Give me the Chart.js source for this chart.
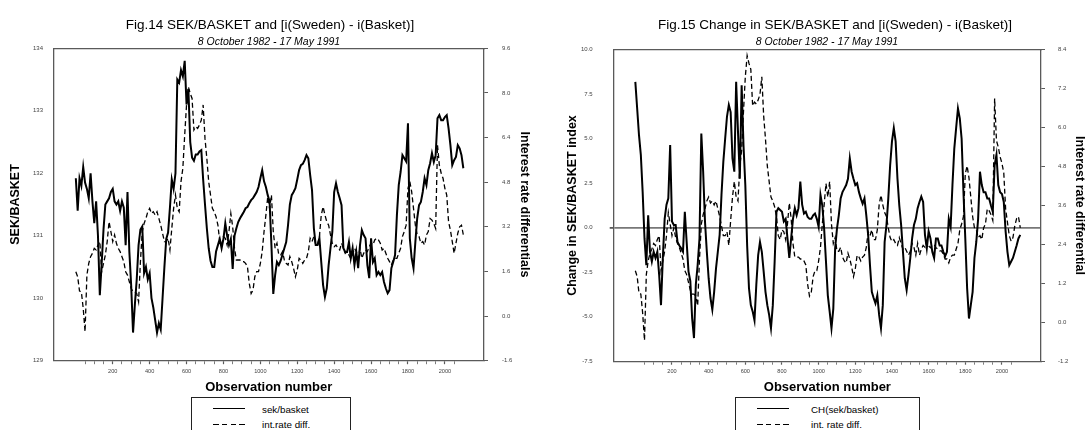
<!DOCTYPE html>
<html>
<head>
<meta charset="utf-8">
<script src="https://cdn.jsdelivr.net/npm/chart.js@4.4.1/dist/chart.umd.min.js"></script>
<style>
html,body{margin:0;padding:0;background:#fff;}
#wrap{position:relative;width:1087px;height:430px;overflow:hidden;font-family:"Liberation Sans",Arial,sans-serif;color:#000;}
canvas{position:absolute;top:0;}
.t{position:absolute;white-space:nowrap;transform:translate(-50%,-50%);}
.title{font-size:13.5px;}
.sub{font-size:10.5px;font-style:italic;}
.leg{position:absolute;border:1px solid #222;background:#fff;height:60px;box-sizing:border-box;}
.ln{position:absolute;height:1.3px;background:#000;}
.ln.d{height:1.1px;background:repeating-linear-gradient(90deg,#000 0 5.5px,transparent 5.5px 8.8px);}
.lt{position:absolute;font-size:9.8px;white-space:nowrap;transform:translateY(-50%);}
</style>
</head>
<body>
<div id="wrap">
  <canvas id="c1" width="543" height="430" style="left:0"></canvas>
  <canvas id="c2" width="544" height="430" style="left:543px"></canvas>
  <div class="t title" style="left:270px;top:23.5px">Fig.14 SEK/BASKET and [i(Sweden) - i(Basket)]</div>
  <div class="t sub" style="left:269px;top:40.5px">8 October 1982 - 17 May 1991</div>
  <div class="t title" style="left:835px;top:23.5px">Fig.15 Change in SEK/BASKET and [i(Sweden) - i(Basket)]</div>
  <div class="t sub" style="left:827px;top:40.5px">8 October 1982 - 17 May 1991</div>
  <div class="leg" style="left:191px;top:397px;width:160px">
    <div class="ln" style="left:20.5px;top:10px;width:32.5px"></div>
    <div class="lt" style="left:70px;top:10.5px">sek/basket</div>
    <div class="ln d" style="left:20.5px;top:25.5px;width:32.5px"></div>
    <div class="lt" style="left:70px;top:26px">int.rate diff.</div>
  </div>
  <div class="leg" style="left:735px;top:397px;width:185px">
    <div class="ln" style="left:21px;top:10px;width:32px"></div>
    <div class="lt" style="left:75px;top:10.5px">CH(sek/basket)</div>
    <div class="ln d" style="left:21px;top:25.5px;width:32px"></div>
    <div class="lt" style="left:75px;top:26px">int. rate diff.</div>
  </div>
</div>
<script>
// ---------------- DATA (one value every OBS_STEP observations, starting at obs 0) ----------------
const OBS_STEP = 10;

// Fig.14 solid: SEK/BASKET index
const sekBasket = [
131.92,131.40,131.92,131.80,132.10,131.85,131.75,131.60,132.00,131.55,
131.20,131.55,131.00,130.05,130.55,131.10,131.50,131.55,131.60,131.70,
131.75,131.55,131.50,131.55,131.40,131.55,131.45,130.85,131.70,130.75,
130.20,129.45,129.90,130.30,130.85,131.10,131.15,130.40,130.50,130.30,
130.40,130.00,129.85,129.65,129.45,129.60,129.50,130.00,130.50,130.95,
131.05,131.45,131.90,131.75,132.00,133.50,133.45,133.65,133.55,133.80,
133.10,133.35,132.50,132.25,132.20,132.30,132.30,132.35,132.37,131.90,
131.50,131.12,130.80,130.60,130.50,130.50,130.75,130.85,130.95,130.80,
130.95,131.20,131.00,130.85,130.95,130.47,131.00,131.12,131.22,131.28,
131.33,131.38,131.44,131.46,131.52,131.57,131.60,131.65,131.70,131.78,
131.92,132.05,131.87,131.78,131.65,131.55,130.85,130.07,130.37,130.58,
130.53,130.60,130.70,130.80,130.90,131.17,131.50,131.65,131.70,131.76,
131.90,132.05,132.13,132.15,132.21,132.29,132.24,131.97,131.73,131.12,
130.85,130.85,130.96,130.58,130.21,130.02,130.16,130.53,130.80,131.06,
131.70,131.84,131.70,131.60,131.49,130.80,130.74,130.74,130.90,130.64,
130.80,130.53,130.74,130.48,130.85,131.09,131.01,130.96,130.53,130.32,
130.96,130.58,130.64,130.37,130.42,130.37,130.42,130.26,130.16,130.08,
130.13,130.48,130.58,130.69,131.33,131.81,132.02,132.29,132.24,132.19,
132.80,130.96,130.64,130.48,130.90,131.28,131.49,131.54,131.70,131.92,
131.81,132.05,132.16,132.32,132.18,132.29,132.88,132.93,132.85,132.85,
132.90,132.93,132.72,132.45,132.13,132.21,132.26,132.45,132.40,132.29,
132.08
];

// Fig.14 dashed: interest rate differential
const rateDiff14 = [
1.59,1.41,0.90,0.87,0.28,-0.56,1.47,1.89,2.13,2.25,
2.43,2.37,2.55,2.67,1.59,1.89,2.19,2.67,3.38,3.03,
2.67,2.91,2.61,2.43,2.31,2.13,1.95,1.59,1.47,1.23,
0.99,0.87,0.87,0.81,0.51,1.95,3.03,3.32,3.50,3.74,
3.86,3.68,3.74,3.62,3.74,3.50,3.26,2.97,2.67,2.67,
2.79,2.37,3.14,3.86,4.34,3.86,3.74,4.82,5.30,6.49,
7.57,8.22,7.98,7.80,6.67,6.79,6.73,6.85,7.03,7.57,
6.37,5.65,4.82,4.34,3.86,3.74,3.56,3.26,2.67,2.55,
2.85,2.79,2.55,3.03,3.68,3.20,2.43,2.01,2.01,2.01,
1.95,1.95,1.89,1.77,1.17,0.81,0.93,1.41,1.59,1.59,
1.89,2.31,3.03,3.62,4.28,3.86,4.34,3.03,2.43,2.61,
2.19,2.19,2.31,2.01,1.89,1.83,2.13,1.95,1.71,1.41,
1.65,2.07,2.01,1.89,2.01,2.07,2.31,2.79,2.67,2.85,
2.55,2.55,2.85,3.62,3.92,3.62,3.38,3.26,2.91,2.61,
2.49,2.55,2.43,2.37,2.61,2.43,2.25,2.31,2.19,2.07,
2.19,2.43,2.31,2.07,2.43,2.07,2.25,2.37,2.31,2.49,
2.61,2.55,2.73,2.79,2.73,2.61,2.37,2.43,2.25,2.07,
1.95,1.83,2.01,2.07,2.07,2.25,2.43,2.85,3.03,3.26,
4.58,4.82,4.46,3.86,3.26,2.91,2.85,2.61,2.67,2.55,
2.91,3.03,3.50,3.44,3.32,3.14,6.13,5.41,5.12,4.94,
4.58,4.34,3.38,3.08,2.67,2.25,2.61,2.97,3.20,3.26,
2.91
];

// Fig.15 solid: change in SEK/BASKET index
const chSekBasket = [
8.20,6.70,5.20,4.10,2.00,-0.60,-2.10,0.70,-1.35,-1.90,
-1.35,-1.70,-1.35,-2.65,-4.35,-1.70,0.50,1.30,1.65,4.65,
0.35,0.15,0.15,-0.80,-1.00,-1.15,-1.35,0.90,-0.80,-2.45,
-3.00,-5.10,-6.20,-3.20,-2.10,-0.60,5.30,3.15,0.35,-1.35,
-2.85,-3.95,-4.60,-3.60,-2.30,-1.35,-0.40,1.85,3.70,5.00,
6.25,6.90,6.50,3.90,3.15,8.20,5.40,2.75,8.00,4.65,
2.40,-1.00,-3.40,-4.35,-4.70,-5.20,-3.20,-1.55,-0.80,-1.35,
-2.45,-3.60,-4.35,-4.90,-5.65,-4.35,-1.90,0.90,1.10,1.00,
0.90,0.35,0.50,-0.60,-1.70,-0.60,0.50,1.10,0.70,1.10,
2.60,1.30,0.80,0.90,0.60,0.50,0.50,0.70,0.80,0.50,
0.05,1.85,1.25,-0.05,-1.90,-3.80,-4.70,-5.65,-4.55,-1.15,
-0.05,0.70,1.65,2.00,2.20,2.40,2.75,3.90,3.15,2.75,
2.40,2.50,2.00,1.65,1.35,1.65,0.70,-0.40,-2.10,-3.60,
-3.95,-4.25,-3.80,-4.90,-5.65,-4.35,-0.80,0.15,1.65,3.50,
4.85,5.60,4.85,2.75,1.25,0.15,-1.35,-2.85,-3.50,-2.65,
-1.70,-0.60,0.15,0.50,1.10,1.45,1.75,1.45,-0.40,-1.15,
-0.20,-0.60,-1.35,-1.70,-0.60,-0.60,-1.00,-1.00,-1.35,-1.60,
-1.35,0.50,0.05,2.40,4.45,5.60,6.70,6.15,5.00,2.00,
-0.60,-3.40,-5.10,-4.35,-3.60,-1.70,-0.80,0.50,3.15,2.40,
2.00,2.00,1.65,1.65,1.25,0.90,3.50,4.10,2.40,2.00,
1.90,1.45,-0.20,-1.35,-2.10,-1.90,-1.70,-1.35,-1.00,-0.60,
-0.40
];

// Fig.15 dashed: interest rate differential
const rateDiff15 = [
1.59,1.41,0.90,0.87,0.28,-0.56,1.47,1.89,2.13,2.25,
2.43,2.37,2.55,2.67,1.59,1.89,2.19,2.67,3.38,3.03,
2.67,2.91,2.61,2.43,2.31,2.13,1.95,1.59,1.47,1.23,
0.99,0.87,0.87,0.81,0.51,1.95,3.03,3.32,3.50,3.74,
3.86,3.68,3.74,3.62,3.74,3.50,3.26,2.97,2.67,2.67,
2.79,2.37,3.14,3.86,4.34,3.86,3.74,4.82,5.30,6.49,
7.57,8.22,7.98,7.80,6.67,6.79,6.73,6.85,7.03,7.57,
6.37,5.65,4.82,4.34,3.86,3.74,3.56,3.26,2.67,2.55,
2.85,2.79,2.55,3.03,3.68,3.20,2.43,2.01,2.01,2.01,
1.95,1.95,1.89,1.77,1.17,0.81,0.93,1.41,1.59,1.59,
1.89,2.31,3.03,3.62,4.28,3.86,4.34,3.03,2.43,2.61,
2.19,2.19,2.31,2.01,1.89,1.83,2.13,1.95,1.71,1.41,
1.65,2.07,2.01,1.89,2.01,2.07,2.31,2.79,2.67,2.85,
2.55,2.55,2.85,3.62,3.92,3.62,3.38,3.26,2.91,2.61,
2.49,2.55,2.43,2.37,2.61,2.43,2.25,2.31,2.19,2.07,
2.19,2.43,2.31,2.07,2.43,2.07,2.25,2.37,2.31,2.49,
2.35,2.30,2.38,2.40,2.30,2.25,2.20,2.20,2.10,1.95,
1.95,1.83,2.01,2.07,2.07,2.25,2.43,2.85,3.03,3.26,
4.58,4.82,4.46,3.86,3.26,2.91,2.85,2.61,2.67,2.55,
2.91,3.03,3.50,3.44,3.32,3.14,6.90,5.60,5.40,5.10,
4.90,4.60,3.50,3.08,2.67,2.50,2.61,2.97,3.20,3.26,
2.91
];

// ---------------- TICKS ----------------
const xTickLabels   = [200,400,600,800,1000,1200,1400,1600,1800,2000];
const xMinorStep    = 50, xMinorFirst = 50, xMinorLast = 2050;
const sekTicks      = [129,130,131,132,133,134];
const rate14Ticks   = [-1.6,0.0,1.6,3.2,4.8,6.4,8.0,9.6];
const chTicks       = [-7.5,-5.0,-2.5,0.0,2.5,5.0,7.5,10.0];
const rate15Ticks   = [-1.2,0.0,1.2,2.4,3.6,4.8,6.0,7.2,8.4];

// ---------------- CHARTS ----------------
Chart.defaults.font.family = '"Liberation Sans", Arial, sans-serif';
const AX = '#5a5a5a', TXT = '#444';
const minorTicks = [];
for (let v = xMinorFirst; v <= xMinorLast; v += xMinorStep) minorTicks.push(v);

const toXY = arr => arr.map((v, i) => ({x: i * OBS_STEP, y: v}));

function makeChart(id, cfg) {
  const tickFont = {size: 6};
  const scales = {
    x: {
      type: 'linear', position: 'bottom', min: cfg.xMin, max: cfg.xMax,
      afterFit(s) { s.height = cfg.xH; },
      afterBuildTicks(s) { s.ticks = minorTicks.map(v => ({value: v})); },
      ticks: {autoSkip: false, maxRotation: 0, minRotation: 0, padding: 3.5, font: {size: 5.6}, color: TXT,
              callback: v => xTickLabels.includes(v) ? String(v) : ''},
      grid: {drawOnChartArea: false, drawTicks: true, tickLength: 3.5, tickColor: AX,
             tickWidth: c => xTickLabels.includes(c.tick && c.tick.value) ? 1.2 : 0.8},
      border: {display: true, color: AX, width: 1.3},
      title: {display: true, text: 'Observation number', color: '#000',
              font: {size: 13, weight: 'bold'}, padding: {top: 0, bottom: cfg.xTitlePad}}
    },
    xTop: {
      type: 'linear', position: 'top', min: cfg.xMin, max: cfg.xMax,
      afterFit(s) { s.height = 0; },
      ticks: {display: false},
      grid: {display: true, drawOnChartArea: false, drawTicks: false},
      border: {display: true, color: AX, width: 1.3}
    },
    y: {
      type: 'linear', position: 'left', min: cfg.yL.min, max: cfg.yL.max,
      afterFit(s) { s.width = cfg.yLW; },
      afterBuildTicks(s) { s.ticks = cfg.yL.ticks.map(v => ({value: v})); },
      ticks: {padding: cfg.yL.pad, font: tickFont, color: TXT, callback: cfg.yL.fmt},
      grid: {drawOnChartArea: !!cfg.zeroLine, drawTicks: true, tickLength: 4, tickColor: AX,
             color: c => (cfg.zeroLine && c.tick && c.tick.value === 0) ? '#777' : 'rgba(0,0,0,0)',
             lineWidth: c => (cfg.zeroLine && c.tick && c.tick.value === 0) ? 1.8 : 0},
      border: {display: true, color: AX, width: 1.3},
      title: {display: true, text: cfg.yL.title, color: '#000',
              font: {size: 12.5, weight: 'bold'}, padding: {top: cfg.yL.titlePad, bottom: 0}}
    },
    y1: {
      type: 'linear', position: 'right', min: cfg.yR.min, max: cfg.yR.max,
      afterFit(s) { s.width = cfg.yRW; },
      afterBuildTicks(s) { s.ticks = cfg.yR.ticks.map(v => ({value: v})); },
      ticks: {padding: cfg.yR.pad, font: tickFont, color: TXT, callback: v => Number(v).toFixed(1)},
      grid: {drawOnChartArea: false, drawTicks: true, tickLength: 4, tickColor: AX},
      border: {display: true, color: AX, width: 1.3},
      title: {display: true, text: cfg.yR.title, color: '#000',
              font: {size: 12.5, weight: 'bold'}, padding: {top: cfg.yR.titlePad, bottom: 0}}
    }
  };
  return new Chart(document.getElementById(id), {
    type: 'line',
    data: {datasets: [
      {label: cfg.solidLabel, data: toXY(cfg.solid), yAxisID: 'y', borderColor: '#000',
       borderWidth: 2, pointRadius: 0, fill: false, tension: 0, borderJoinStyle: 'miter'},
      {label: cfg.dashLabel, data: toXY(cfg.dash), yAxisID: 'y1', borderColor: '#000',
       borderWidth: 1.3, borderDash: [5, 3], pointRadius: 0, fill: false, tension: 0}
    ]},
    options: {
      responsive: false, animation: false, events: [], parsing: false, normalized: true,
      layout: {padding: {left: 0, right: 0, top: cfg.top, bottom: 0}},
      plugins: {legend: {display: false}, tooltip: {enabled: false}, title: {display: false}},
      scales
    }
  });
}

makeChart('c1', {
  xMin: -121, xMax: 2212, xH: 69.3, xTitlePad: 34.9, top: 48.3, yLW: 53.5, yRW: 59,
  solid: sekBasket, dash: rateDiff14, solidLabel: 'sek/basket', dashLabel: 'int.rate diff.',
  yL: {min: 129, max: 134, ticks: sekTicks, pad: 6.5, fmt: v => String(v), title: 'SEK/BASKET', titlePad: 8},
  yR: {min: -1.6, max: 9.6, ticks: rate14Ticks, pad: 14, title: 'Interest rate differentials', titlePad: 11.5}
});

makeChart('c2', {
  xMin: -118, xMax: 2213, xH: 68.8, xTitlePad: 34.9, top: 49.8, yLW: 70.7, yRW: 46, zeroLine: true,
  solid: chSekBasket, dash: rateDiff15, solidLabel: 'CH(sek/basket)', dashLabel: 'int. rate diff.',
  yL: {min: -7.5, max: 10, ticks: chTicks, pad: 17, fmt: v => Number(v).toFixed(1), title: 'Change in SEK/BASKET index', titlePad: 22.5},
  yR: {min: -1.2, max: 8.4, ticks: rate15Ticks, pad: 13, title: 'Interest rate differential', titlePad: 0}
});
</script>
</body>
</html>
